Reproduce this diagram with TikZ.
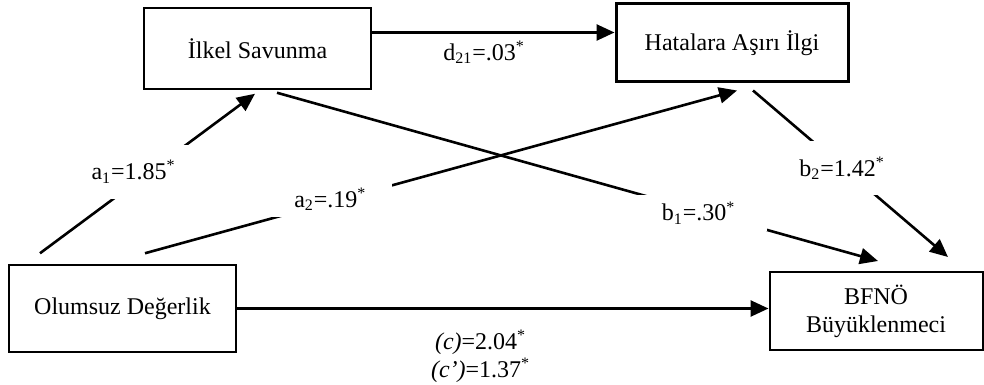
\documentclass[tikz,border=0pt]{standalone}
\usepackage{fontspec}
\setmainfont{Liberation Serif}
\usetikzlibrary{arrows.meta}
\usetikzlibrary{positioning}
\newcommand\mycoef[3]{#1\textsubscript{#2}=#3\textsuperscript{*}}

\begin{document}
\begin{tikzpicture}[
x=0.5pt, y=-0.5pt,
font=\fontsize{12}{14}\selectfont,
>={Triangle[length=9pt,width=8pt]},
varbox/.style={
  draw,
  line width=0.75pt,
  inner sep=0pt,
  align=center},
effect/.style={->, line width=1.3pt},
coef/.style={fill=white, inner sep=0pt}
]
\useasboundingbox (0,0) rectangle (984,385);
\node[varbox, minimum width=113.5pt, minimum height=40.5pt] (ilkel) at (257.5,48.5) {İlkel Savunma};
\node[varbox, line width=1.5pt, minimum width=116pt, minimum height=39pt] (hat) at (732,43) {Hatalara Aşırı İlgi};
\node[varbox, minimum width=113.5pt, minimum height=43.5pt] (olum) at (122.5,308.5) {Olumsuz Değerlik};
\node[varbox, line width=1pt, minimum width=106.5pt, minimum height=39pt] (bfno) at (876,311) {BFNÖ\\Büyüklenmeci};
\draw [effect] ([yshift=8pt]ilkel.east) to node [midway, xshift=-4.5pt, yshift=-10pt]{\mycoef{d}{21}{.03}} ([yshift=8pt]ilkel.east -| hat.west);
\draw [effect] ([xshift=-41.25pt,yshift=5.5pt]olum.north) to node [coef, pos=0.51, xshift=-8pt, minimum width=58pt, minimum height=27pt]{\mycoef{a}{1}{1.85}} ([xshift=-1.25pt,yshift=-2pt]ilkel.south);
\draw [effect] ([xshift=11.25pt,yshift=5.5pt]olum.north) to node [coef, pos=0.33, xshift=-5pt, minimum width=62pt, minimum height=17pt]{\mycoef{a}{2}{.19}} ([xshift=2.5pt,yshift=-3.5pt]hat.south);
\draw [effect] ([xshift=9.75pt,yshift=-1.5pt]ilkel.south) to node [coef, pos=0.715, xshift=-4pt, minimum width=68pt, minimum height=18pt]{\mycoef{b}{1}{.30}} ([xshift=1pt,yshift=5pt]bfno.north);
\draw [effect] ([xshift=10.5pt,yshift=-3.5pt]hat.south) to node [coef, pos=0.467, xshift=-1pt, minimum width=42pt, minimum height=27pt]{\mycoef{b}{2}{1.42}} ([xshift=36pt,yshift=7pt]bfno.north);
\draw [effect] (olum.east) to node [midway, xshift=-11pt, yshift=-24pt, align=center]{\textit{(c)}=2.04\textsuperscript{*}\\\textit{(c’)}=1.37\textsuperscript{*}} (olum.east -| bfno.west);
\end{tikzpicture}
\end{document}
